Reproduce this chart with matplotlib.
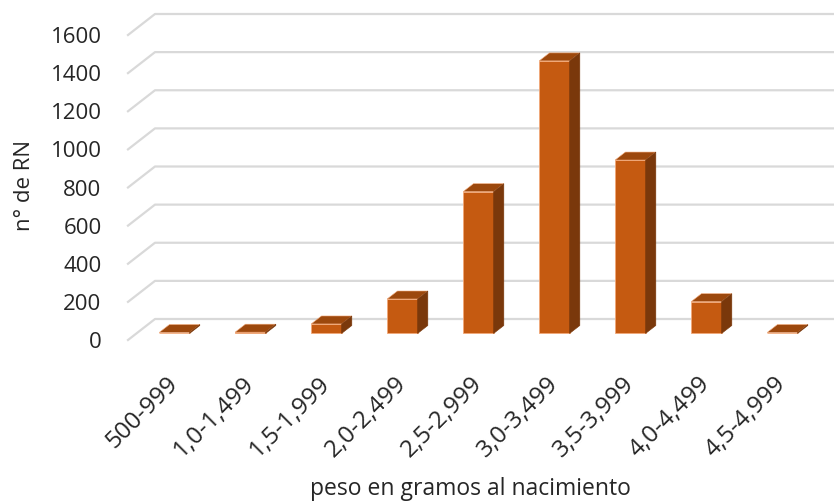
import matplotlib.pyplot as plt
from matplotlib.patches import Polygon

plt.rcParams['font.family'] = ['Open Sans', 'DejaVu Sans']

# datos: recién nacidos por intervalo de peso
categorias = ['500-999', '1,0-1,499', '1,5-1,999', '2,0-2,499', '2,5-2,999',
              '3,0-3,499', '3,5-3,999', '4,0-4,499', '4,5-4,999']
n_rn = [5, 7, 50, 181, 744, 1430, 910, 167, 5]
marcas_y = [0, 200, 400, 600, 800, 1000, 1200, 1400, 1600]

c_frente = '#C55A11'
c_techo = '#9C480D'
c_lado = '#7A380B'
c_borde = '#F2A878'
c_rejilla = '#D9D9D9'
c_texto = '#262626'

W, H = 834, 504
px_cat = 76.0            # pixeles por categoria
px_val = 305.0 / 1600    # pixeles por unidad

fig = plt.figure(figsize=(W / 100, H / 100), dpi=100)
ax = fig.add_axes([128 / W, 164 / H, 9 * px_cat / W, 305 / H])
ax.set_xlim(-0.5, 8.5)
ax.set_ylim(0, 1600)

# profundidad del "suelo" en unidades de datos
DX = 27 / px_cat
DY = 21 / px_val

# rejilla: pared lateral + pared del fondo
for v in marcas_y:
    ax.plot([-0.5, -0.5 + DX, 8.5 + 2 * DX], [v, v + DY, v + DY],
            color=c_rejilla, lw=1.6, clip_on=False, zorder=1)

# columnas en pseudo 3D
d0, d1 = 0.31, 0.69
ancho = 0.4
dd = d1 - d0
for i, v in enumerate(n_rn):
    x0 = i - ancho / 2 + d0 * DX
    y0 = d0 * DY
    ax.bar(x0 + ancho / 2, v, width=ancho, bottom=y0, color=c_frente,
           edgecolor=c_borde, lw=0.6, clip_on=False, zorder=3)
    techo = [(x0, y0 + v), (x0 + ancho, y0 + v),
             (x0 + ancho + dd * DX, y0 + v + dd * DY), (x0 + dd * DX, y0 + v + dd * DY)]
    lado = [(x0 + ancho, y0), (x0 + ancho + dd * DX, y0 + dd * DY),
            (x0 + ancho + dd * DX, y0 + v + dd * DY), (x0 + ancho, y0 + v)]
    ax.add_patch(Polygon(techo, closed=True, fc=c_techo, ec=c_borde, lw=0.4,
                         clip_on=False, zorder=3))
    ax.add_patch(Polygon(lado, closed=True, fc=c_lado, ec=c_lado, lw=0.4,
                         clip_on=False, zorder=3))

for s in ax.spines.values():
    s.set_visible(False)

ax.set_yticks(marcas_y)
ax.set_yticklabels([str(v) for v in marcas_y], fontsize=16, color=c_texto)
ax.tick_params(axis='y', length=0, pad=19)

ax.set_xticks(range(len(categorias)))
ax.set_xticklabels(categorias, rotation=45, ha='right', rotation_mode='anchor',
                   fontsize=17.5, color=c_texto)
ax.tick_params(axis='x', length=0, pad=23)

ax.set_xlabel('peso en gramos al nacimiento', fontsize=16.5, color=c_texto, va='center')
ax.xaxis.set_label_coords(0.5, -0.49)
ax.set_ylabel('n° de RN', fontsize=16, color=c_texto, va='center')
ax.yaxis.set_label_coords(-0.1506, 0.508)

fig.savefig('out.png', dpi=100)
